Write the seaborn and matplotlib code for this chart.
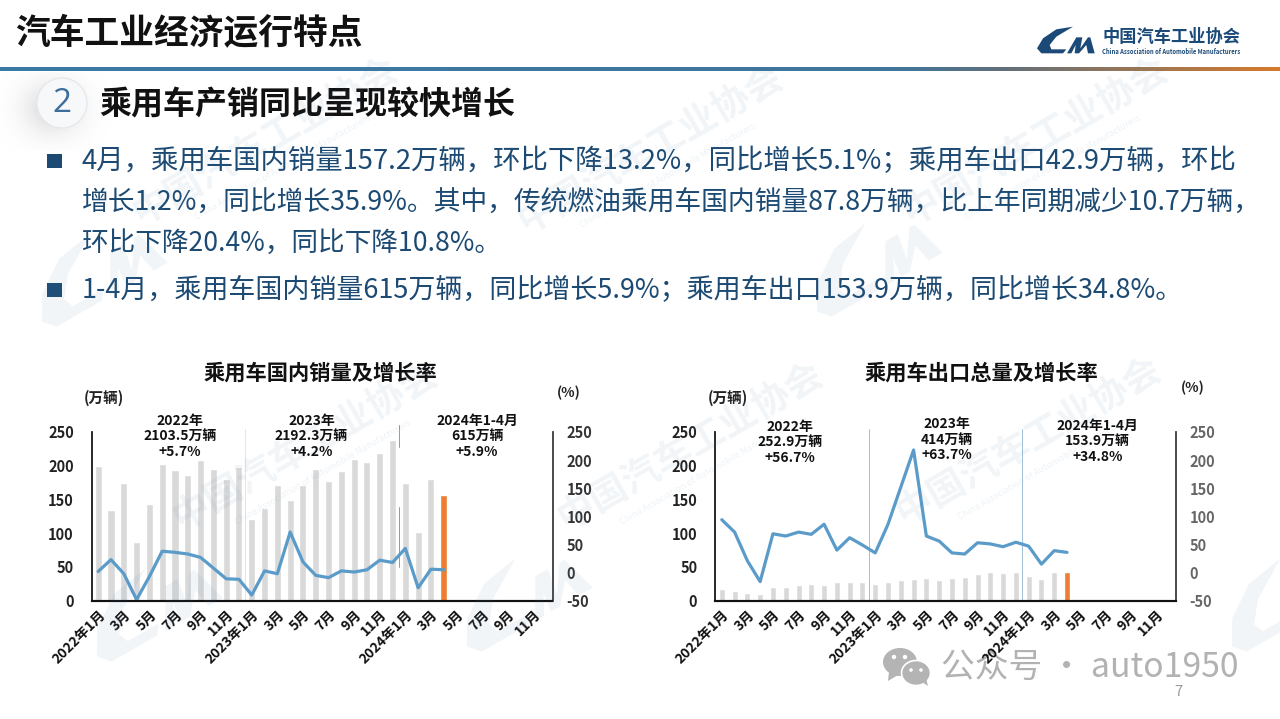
"""
Passenger car domestic sales and exports, slide recreated with seaborn.
"""

import matplotlib.pyplot as plt
import numpy as np
import pandas as pd
import seaborn as sns
from matplotlib.colors import LinearSegmentedColormap
from matplotlib.patches import Circle, Ellipse, Polygon, Rectangle
from matplotlib.transforms import Affine2D

TICK_LABELS = ["2022年1月", "3月", "5月", "7月", "9月", "11月",
               "2023年1月", "3月", "5月", "7月", "9月", "11月",
               "2024年1月", "3月", "5月", "7月", "9月", "11月"]

DOMESTIC_SALES = [200, 134, 174, 87, 143, 203, 193, 186, 208, 195, 180, 198,
                  121, 138, 171, 149, 172, 195, 177, 192, 210, 206, 219, 238,
                  174, 102, 181, 157.2]
DOMESTIC_GROWTH = [2, 23, -2, -48, -7, 38, 36, 33, 27, 8, -11, -12,
                   -40, 3, -2, 72, 19, -5, -9, 3, 1, 5, 22, 18,
                   43, -27, 6, 5.1]
EXPORT_SALES = [18, 15, 12, 10, 20, 20, 24, 25, 24, 28, 28, 28,
                25, 27, 30, 32, 33, 31, 33, 35, 39, 42, 41, 42,
                37, 32, 43, 42.9]
EXPORT_GROWTH = [94, 72, 21, -16, 69, 65, 72, 68, 86, 40, 62, 49,
                 35, 86, 152, 218, 65, 56, 35, 33, 53, 51, 46, 54,
                 47, 15, 39, 35.9]

BODY_LINES = [
    "4月，乘用车国内销量157.2万辆，环比下降13.2%，同比增长5.1%；乘用车出口42.9万辆，环比",
    "增长1.2%，同比增长35.9%。其中，传统燃油乘用车国内销量87.8万辆，比上年同期减少10.7万辆，",
    "环比下降20.4%，同比下降10.8%。",
    "1-4月，乘用车国内销量615万辆，同比增长5.9%；乘用车出口153.9万辆，同比增长34.8%。",
]

GREY_BAR = "#d9d9d9"
ORANGE_BAR = "#ed7d31"
LINE_BLUE = "#5b9bc9"
BODY_BLUE = "#1c4a73"
WATERMARK = "#4f81ad"
W, H = 1280, 719

sns.set_theme(style="white")
plt.rcParams["font.family"] = ["Noto Sans CJK SC", "DejaVu Sans"]
plt.rcParams["axes.unicode_minus"] = False


def pixel_axes(fig, zorder):
    # full slide overlay, addressed in image pixels
    ax = fig.add_axes([0, 0, 1, 1], zorder=zorder)
    ax.set_xlim(0, W)
    ax.set_ylim(H, 0)
    ax.axis("off")
    ax.patch.set_alpha(0)
    return ax


def draw_logo(ax, x, y, scale, color, angle=0, alpha=1.0):
    swoosh = [(108, 2), (58, 10), (18, 37), (0, 67), (13, 82), (78, 82), (88, 70),
              (43, 70), (38, 57), (58, 32)]
    peaks = [(90, 82), (118, 34), (136, 34), (130, 67), (153, 34), (160, 34),
             (173, 82), (153, 82), (148, 57), (126, 82), (113, 82), (116, 57), (103, 82)]
    tr = Affine2D().scale(scale).rotate_deg(angle).translate(x, y) + ax.transData
    for pts in (swoosh, peaks):
        ax.add_patch(Polygon(pts, closed=True, facecolor=color, edgecolor="none",
                             alpha=alpha, transform=tr))


def draw_chart(fig, left, width, sales, growth, bar_width, spans, notes, right_color, bg):
    ax = fig.add_axes([left / W, 1 - 600.7 / H, width / W, 168.7 / H], zorder=2)
    ax.patch.set_alpha(0)
    df = pd.DataFrame({"pos": range(len(sales)), "sales": sales})
    df["kind"] = ["latest" if i == len(sales) - 1 else "past" for i in df["pos"]]
    sns.barplot(data=df, x="pos", y="sales", hue="kind", order=list(range(36)),
                palette={"past": GREY_BAR, "latest": ORANGE_BAR}, dodge=False,
                width=bar_width, legend=False, ax=ax, saturation=1)
    ax.set_ylim(0, 250)
    ax.set_yticks(range(0, 251, 50))
    ax.set_xticks(range(0, 36, 2))
    ax.set_xticklabels(TICK_LABELS, rotation=45, ha="right", va="top",
                       rotation_mode="anchor", fontsize=10, fontweight="bold",
                       color="#111111")
    ax.set_xlabel("")
    ax.set_ylabel("")
    ax.tick_params(axis="y", length=0, pad=13, labelsize=10.5, labelcolor="#222222")
    ax.tick_params(axis="x", length=0, pad=5)
    for lab in ax.get_yticklabels():
        lab.set_fontweight("bold")

    ax2 = ax.twinx()
    ax2.patch.set_alpha(0)
    sns.lineplot(x=df["pos"].to_numpy(), y=growth, color=LINE_BLUE, linewidth=2.3,
                 ax=ax2, errorbar=None)
    ax2.set_ylim(-50, 250)
    ax2.set_yticks(range(-50, 251, 50))
    ax2.set_ylabel("")
    ax2.tick_params(axis="y", length=0, pad=10, labelsize=10.5, labelcolor=right_color)
    for lab in ax2.get_yticklabels():
        lab.set_fontweight("bold")
    ax.set_xlim(-0.5, 35.5)

    for a in (ax, ax2):
        a.spines["top"].set_visible(False)
        a.spines["left"].set_color("#222222")
        a.spines["left"].set_linewidth(1.1)
        a.spines["right"].set_color("#444444")
        a.spines["right"].set_linewidth(1.1)
        a.spines["bottom"].set_color("#111111")
        a.spines["bottom"].set_linewidth(1.5)

    for xpos, lo, hi, col in spans:
        ax.axvline(xpos, ymin=lo, ymax=hi, color=col, linewidth=0.7, clip_on=False)

    for nx, ny, lines in notes:
        for k, txt in enumerate(lines):
            bg.text(nx, ny + k * 15.7, txt, ha="center", va="center", fontsize=10,
                    fontweight="bold", color="#111111", zorder=5)
    return ax


fig = plt.figure(figsize=(W / 100, H / 100), dpi=100, facecolor="white")
bg = pixel_axes(fig, 1)
top = pixel_axes(fig, 3)

# header rule
rule = fig.add_axes([0, 1 - 71 / H, 1, 4.5 / H], zorder=1)
rule_cmap = LinearSegmentedColormap.from_list(
    "rule", [(0, "#3b7aa6"), (0.7, "#3f769c"), (0.78, "#5f6f7c"), (0.86, "#8a7560"), (1, "#d67a2c")])
rule.imshow(np.linspace(0, 1, 512).reshape(1, -1), aspect="auto", cmap=rule_cmap)
rule.axis("off")

# soft shadow behind the numbered disc
yy, xx = np.mgrid[72:150, 0:120]
dist = np.hypot(xx - 52, (yy - 108) * 1.1)
shadow = np.clip(1 - dist / 62, 0, 1) * 0.28
bg.imshow(shadow, extent=(0, 120, 150, 72), cmap="Greys", vmin=0, vmax=1,
          aspect="auto", alpha=np.clip(shadow * 4, 0, 1), zorder=0)
bg.set_xlim(0, W)
bg.set_ylim(H, 0)
bg.add_patch(Ellipse((62, 103), 50, 50, facecolor="#f7f8fa", edgecolor="#e6e8ec", linewidth=1, zorder=1))

bg.text(15, 34, "汽车工业经济运行特点", fontsize=25, fontweight="bold", color="#111111",
        ha="left", va="center")
bg.text(62, 103, "2", fontsize=24, color="#3c6e9c", ha="center", va="center",
        family=["Open Sans", "DejaVu Sans"])
bg.text(99, 105, "乘用车产销同比呈现较快增长", fontsize=23, fontweight="bold", color="#111111",
        ha="left", va="center")

# header logo
draw_logo(bg, 1037, 26, 1 / 3, "#1c4a78")
bg.text(1102, 37, "中国汽车工业协会", fontsize=12.4, fontweight="bold", color="#1c4a78",
        ha="left", va="center")
bg.text(1102, 52, "China Association of Automobile Manufacturers", fontsize=4.25,
        fontweight="bold", color="#1c4a78", ha="left", va="center")

# bullets
for y, line, size, bullet in zip([161, 203, 243, 290], BODY_LINES, [19.75, 19.3, 19.2, 19.45],
                                 [True, False, False, True]):
    if bullet:
        bg.add_patch(Rectangle((47, y - 7), 15, 14, facecolor="#1c4a73", edgecolor="none"))
    bg.text(82, y, line, fontsize=size, color=BODY_BLUE, ha="left", va="center")

# charts
left_notes = [(180, 420.7, ["2022年", "2103.5万辆", "+5.7%"]),
              (311.4, 420.7, ["2023年", "2192.3万辆", "+4.2%"]),
              (477, 420.7, ["2024年1-4月", "615万辆", "+5.9%"])]
right_notes = [(790, 426.7, ["2022年", "252.9万辆", "+56.7%"]),
               (946.4, 424, ["2023年", "414万辆", "+63.7%"]),
               (1097.5, 425.5, ["2024年1-4月", "153.9万辆", "+34.8%"])]
left_spans = [(11.5, 0, 1.02, "#dfe6ec"), (23.5, 0.91, 1.04, "#6fa3c7"), (23.5, 0.2, 0.556, "#6fa3c7")]
right_spans = [(11.5, 0, 1.02, "#9cc0da"), (23.5, 0, 1.02, "#9cc0da")]

draw_chart(fig, 91.8, 460.7, DOMESTIC_SALES, DOMESTIC_GROWTH, 0.55, left_spans, left_notes,
           "#333333", top)
draw_chart(fig, 715.4, 460.3, EXPORT_SALES, EXPORT_GROWTH, 0.47, right_spans, right_notes,
           "#666666", top)

for x, title in [(320.4, "乘用车国内销量及增长率"), (981.4, "乘用车出口总量及增长率")]:
    bg.text(x, 372.7, title, fontsize=15.3, fontweight="bold", color="#111111",
            ha="center", va="center")
for x, y, txt, size in [(103.6, 398, "(万辆)", 10.5), (569, 393, "(%)", 10),
                        (727.5, 398, "(万辆)", 10.5), (1193, 388, "(%)", 10)]:
    bg.text(x, y, txt, fontsize=size, fontweight="bold", color="#222222", ha="center", va="center")

# wechat footer mark
bg.add_patch(Ellipse((900, 662), 34, 28, facecolor="#b4b4b4", edgecolor="none"))
bg.add_patch(Polygon([(889, 672), (888, 681), (898, 675)], facecolor="#b4b4b4", edgecolor="none"))
bg.add_patch(Ellipse((916, 673), 29, 25, facecolor="#b4b4b4", edgecolor="white", linewidth=1.2))
bg.add_patch(Polygon([(922, 682), (928, 686), (926, 678)], facecolor="#b4b4b4", edgecolor="none"))
for ex, ey, er in [(894, 657, 2.2), (905, 657, 2.2), (911, 670, 1.8), (921, 670, 1.8)]:
    bg.add_patch(Circle((ex, ey), er, facecolor="white", edgecolor="none"))
bg.text(941, 667, "公众号 · auto1950", fontsize=24.3, color="#b2b2b2", ha="left", va="center")
bg.text(1178, 692, "7", fontsize=10.5, color="#9a9a9a", ha="center", va="center")

# watermark pattern sits on top of everything, very faint
for wx, wy in [(305, 445), (690, 445), (1028, 440), (265, 140), (650, 148), (1035, 140)]:
    top.text(wx, wy, "中国汽车工业协会", fontsize=27, fontweight="bold", color=WATERMARK,
             alpha=0.08, rotation=30, ha="center", va="center", rotation_mode="anchor")
    top.text(wx + 18, wy + 28, "China Association of Automobile Manufacturers", fontsize=6.5,
             color=WATERMARK, alpha=0.1, rotation=30, ha="center", va="center",
             rotation_mode="anchor")
for lx, ly in [(15, 275), (440, 600), (790, 265), (70, 610), (1205, 600)]:
    draw_logo(top, lx, ly, 0.8, WATERMARK, angle=-30, alpha=0.08)

fig.savefig("out.png", dpi=100)
